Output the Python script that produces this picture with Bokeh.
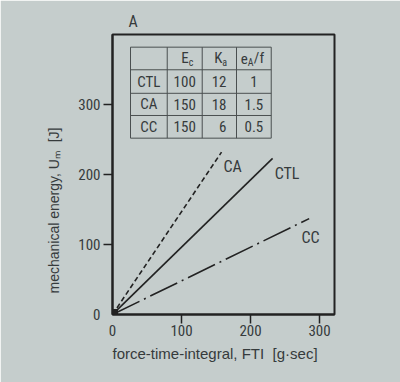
from bokeh.plotting import figure
from bokeh.models import Range1d, FixedTicker, LinearAxis, Title
from bokeh.core.properties import value
from bokeh.embed import file_html
from bokeh.resources import INLINE

# ---- data ----
series = ["CTL", "CA", "CC"]
ctl_x = [0, 232]
ctl_y = [0, 223]
ca_x = [0, 158]
ca_y = [0, 232]
cc_x = [0, 285]
cc_y = [0, 137]

x_ticks = [100, 200, 300]
y_ticks = [100, 200, 300]
zero_tick = [0]

table_rows = ["CTL", "CA", "CC"]
table_ec = ["100", "150", "150"]
table_ka = ["12", "18", "6"]
table_ea = ["1", "1.5", "0.5"]
hdr_main = ["E", "K", "e"]
hdr_sub = ["c", "a", "A"]
hdr_tail = ["", "", "/f"]

x_label = "force-time-integral, FTI\u00a0\u00a0[g\u00b7sec]"
y_label = "mechanical energy, U\u2098\u00a0\u00a0[J]"

# ---- style ----
BG = "#c5cdcc"
INK = "#222222"
TXT = "#363b3c"
FONT = "Liberation Sans Narrow, Roboto Condensed, Liberation Sans, sans-serif"
LFONT = "Liberation Sans, Arial, sans-serif"

p = figure(width=400, height=382, x_range=Range1d(0, 321.7), y_range=Range1d(0, 400),
           output_backend="svg", toolbar_location=None,
           x_axis_location=None, y_axis_location=None, title="A",
           min_border_left=112, min_border_right=66, min_border_top=34, min_border_bottom=68)
p.background_fill_color = BG
p.border_fill_color = BG
p.outline_line_color = INK
p.outline_line_width = 2
p.grid.visible = False

p.title.align = "left"
p.title.offset = 16
p.title.standoff = 7
p.title.text_font = FONT
p.title.text_font_size = "16px"
p.title.text_font_style = "normal"
p.title.text_color = TXT


def tick_axis(ticks):
    return LinearAxis(ticker=FixedTicker(ticks=ticks), major_tick_in=0, major_tick_out=9,
                      major_tick_line_color=INK, major_tick_line_width=1.5,
                      minor_tick_line_color=None, axis_line_color=INK, axis_line_width=2,
                      major_label_text_font_size="0px", major_label_standoff=0,
                      major_label_overrides={t: "" for t in ticks})


def label_axis(ticks, standoff):
    return LinearAxis(ticker=FixedTicker(ticks=ticks), major_tick_in=0, major_tick_out=0,
                      major_tick_line_color=None, minor_tick_line_color=None,
                      axis_line_color=None, major_label_standoff=standoff,
                      major_label_text_font=FONT, major_label_text_font_size="15px",
                      major_label_text_color=TXT)


p.add_layout(tick_axis(y_ticks), "left")
p.add_layout(label_axis(zero_tick + y_ticks, 3), "left")
p.add_layout(tick_axis(x_ticks), "below")
p.add_layout(label_axis(zero_tick + x_ticks, 1), "below")

p.add_layout(Title(text=x_label, align="left", offset=0, standoff=9, text_font=LFONT,
                   text_font_size="15px", text_font_style="normal", text_color=TXT), "below")
p.add_layout(Title(text=y_label, align="left", offset=21, standoff=27, text_font=LFONT,
                   text_font_size="14px", text_font_style="normal", text_color=TXT), "left")

# ---- lines ----
p.line(ctl_x, ctl_y, line_color=INK, line_width=1.6)
p.line(ca_x, ca_y, line_color=INK, line_width=1.6, line_dash="5 3")
p.line(cc_x, cc_y, line_color=INK, line_width=1.6, line_dash="30 5 2 5")
p.scatter([ctl_x[0]], [ctl_y[0]], marker="square", size=10, color=INK)

# line labels
lab_x = [ctl_x[1] + 21, ca_x[1] + 16, cc_x[1] + 2]
lab_y = [ctl_y[1] - 21, ca_y[1] - 20, cc_y[1] - 27]
p.text(lab_x, lab_y, text=series, text_font=value(FONT), text_font_size="16px",
       text_color=TXT, text_align="center", text_baseline="middle")

# ---- table ----
vx = [26.1, 79.3, 130.0, 179.7, 230.0]
hy = [381.9, 349.6, 316.0, 284.3, 251.9]
p.multi_line([[x, x] for x in vx], [[hy[0], hy[-1]] for _ in vx], line_color="#4a4f50", line_width=1)
p.multi_line([[vx[0], vx[-1]] for _ in hy], [[y, y] for y in hy], line_color="#4a4f50", line_width=1)

col_c = [(vx[i] + vx[i + 1]) / 2 for i in range(4)]
row_c = [(hy[i] + hy[i + 1]) / 2 for i in range(4)]
tf = dict(text_font=value(FONT), text_font_size="15px", text_color=TXT, text_baseline="middle")
p.text([col_c[0]] * 3, row_c[1:], text=table_rows, text_align="center", **tf)
p.text([col_c[1]] * 3, row_c[1:], text=table_ec, text_align="center", **tf)
p.text([vx[3]] * 3, row_c[1:], text=table_ka, text_align="right", x_offset=-10, **tf)
p.text([col_c[3]] * 3, row_c[1:], text=table_ea, text_align="center", **tf)

# header with subscripts
main_off = [4, 3, -6]
p.text(col_c[1:], [row_c[0]] * 3, text=hdr_main, text_align="right", x_offset=main_off, **tf)
p.text(col_c[1:], [row_c[0]] * 3, text=hdr_sub, text_align="left", x_offset=main_off,
       y_offset=4, text_font=value(FONT), text_font_size="10px", text_color=TXT, text_baseline="middle")
p.text(col_c[1:], [row_c[0]] * 3, text=hdr_tail, text_align="left", x_offset=[o + 6 for o in main_off], **tf)

open("out.html", "w").write(file_html(p, INLINE))
